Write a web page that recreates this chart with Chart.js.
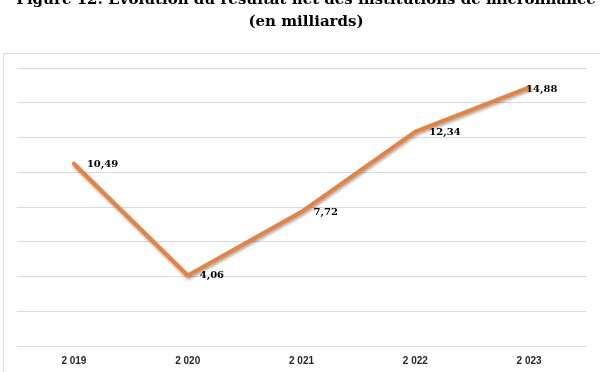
<!DOCTYPE html>
<html>
<head>
<meta charset="utf-8">
<script src="https://cdn.jsdelivr.net/npm/chart.js@4.4.1/dist/chart.umd.min.js"></script>
<style>
  html, body { margin: 0; padding: 0; background: #fff; overflow: hidden; }
  #wrap { position: relative; width: 600px; height: 372px; overflow: hidden; }
  #titre {
    position: absolute; left: 0px; top: -12px; width: 612px;
    text-align: center; font: bold 15px "DejaVu Serif", serif;
    line-height: 22px; color: #000; white-space: nowrap; z-index: 2;
  }
  canvas { position: absolute; left: 0; top: 0; }
</style>
</head>
<body>
<div id="wrap">
  <div id="titre">Figure 12: Évolution du résultat net des institutions de microfinance<br>(en milliards)</div>
  <canvas id="graphe" width="600" height="381"></canvas>
</div>
<script>
// données
var annees = ['2 019', '2 020', '2 021', '2 022', '2 023'];
var resultatNet = [10.49, 4.06, 7.72, 12.34, 14.88];
var etiquettes = ['10,49', '4,06', '7,72', '12,34', '14,88'];

// cadre gris clair autour du graphique
var cadre = {
  id: 'cadre',
  beforeDraw: function (chart) {
    var ctx = chart.ctx;
    ctx.save();
    ctx.strokeStyle = '#d9d9d9';
    ctx.lineWidth = 1;
    ctx.strokeRect(3.5, 53.5, 620, 340);
    ctx.restore();
  }
};

// ombre sous la courbe
var ombre = {
  id: 'ombre',
  beforeDatasetDraw: function (chart) {
    var ctx = chart.ctx;
    ctx.save();
    ctx.shadowColor = 'rgba(0,0,0,0.35)';
    ctx.shadowBlur = 3;
    ctx.shadowOffsetX = 1;
    ctx.shadowOffsetY = 2;
  },
  afterDatasetDraw: function (chart) {
    chart.ctx.restore();
  }
};

// étiquettes de valeurs à droite des points
var valeurs = {
  id: 'valeurs',
  afterDatasetsDraw: function (chart, args, opts) {
    var ctx = chart.ctx;
    var pts = chart.getDatasetMeta(0).data;
    ctx.save();
    ctx.font = 'bold 10px "DejaVu Serif", serif';
    ctx.fillStyle = '#000';
    ctx.textBaseline = 'middle';
    ctx.textAlign = 'left';
    for (var i = 0; i < pts.length; i++) {
      ctx.fillText(etiquettes[i], pts[i].x + opts.dx[i], pts[i].y + opts.dy[i]);
    }
    ctx.restore();
  }
};

new Chart(document.getElementById('graphe'), {
  type: 'line',
  data: {
    labels: annees,
    datasets: [{
      data: resultatNet,
      borderColor: '#e8823f',
      borderWidth: 4,
      borderJoinStyle: 'round',
      borderCapStyle: 'round',
      pointRadius: 0,
      tension: 0,
      fill: false
    }]
  },
  options: {
    responsive: false,
    animation: false,
    layout: { padding: { left: 17, right: 14, top: 68, bottom: 4 } },
    plugins: {
      legend: { display: false },
      title: { display: false },
      tooltip: { enabled: false },
      valeurs: { dx: [13, 12, 12, 14, -3], dy: [1, 0, 1, 1, 2] }
    },
    scales: {
      x: {
        offset: true,
        grid: { display: false, drawTicks: false },
        border: { display: false },
        ticks: {
          padding: 9.5,
          color: '#262626',
          font: { family: '"Liberation Sans", sans-serif', size: 10, weight: 'bold' }
        }
      },
      y: {
        min: 0,
        max: 16,
        ticks: { display: false, stepSize: 2 },
        grid: { color: '#d9d9d9', lineWidth: 1, drawTicks: false },
        border: { display: false }
      }
    }
  },
  plugins: [cadre, ombre, valeurs]
});
</script>
</body>
</html>
